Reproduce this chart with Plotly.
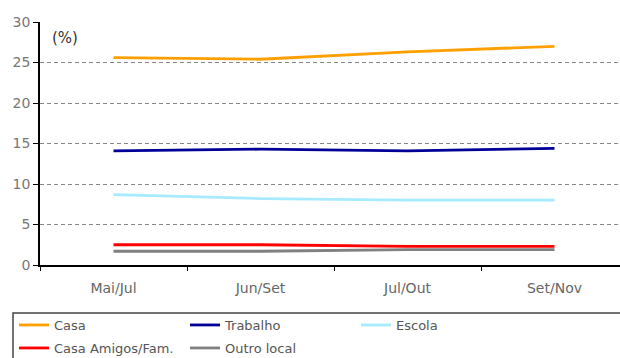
import plotly.graph_objects as go

# Periods (three-month moving windows)
periodos = ["Mai/Jul", "Jun/Set", "Jul/Out", "Set/Nov"]

# Share of use by location (%)
casa = [25.6, 25.4, 26.3, 27.0]
trabalho = [14.1, 14.3, 14.1, 14.4]
escola = [8.7, 8.2, 8.0, 8.0]
casa_amigos = [2.5, 2.5, 2.3, 2.3]
outro_local = [1.7, 1.7, 1.9, 1.9]

# name, values, colour, legend row
series = [
    ("Casa", casa, "#FFA000", "legend"),
    ("Trabalho", trabalho, "#000099", "legend"),
    ("Escola", escola, "#A6EBFF", "legend"),
    ("Casa Amigos/Fam.", casa_amigos, "#FF0000", "legend2"),
    ("Outro local", outro_local, "#808080", "legend2"),
]

W, H = 620, 358
ML, MR, MT, MB = 40, 0, 22, 93
plot_w = W - ML - MR
plot_h = H - MT - MB


def px_x(px):
    return (px - ML) / plot_w


def px_y(py):
    return (H - MB - py) / plot_h


fig = go.Figure()
for nome, valores, cor, leg in series:
    fig.add_trace(go.Scatter(
        x=periodos, y=valores, name=nome, mode="lines",
        line=dict(color=cor, width=2.8), legend=leg,
    ))

font = "DejaVu Sans, Verdana, sans-serif"

legend_style = dict(
    orientation="h",
    xanchor="left", yanchor="middle",
    entrywidth=126, entrywidthmode="pixels",
    font=dict(size=13, color="#555555", family=font),
    bgcolor="rgba(0,0,0,0)", borderwidth=0,
    itemwidth=30,
)

fig.update_layout(
    width=W, height=H,
    margin=dict(l=ML, r=MR, t=MT, b=MB, autoexpand=False),
    paper_bgcolor="white", plot_bgcolor="white",
    font=dict(family=font, color="#666666"),
    showlegend=True,
    legend=dict(legend_style, x=px_x(14), y=px_y(325)),
    legend2=dict(legend_style, x=px_x(14), y=px_y(348)),
    xaxis=dict(
        type="category", automargin=False,
        range=[-0.5, -0.5 + plot_w / 147.0],
        tickson="boundaries",
        ticks="outside", ticklen=4, tickcolor="#000000", tickwidth=1,
        ticklabelstandoff=9,
        showline=True, linecolor="#000000", linewidth=1.5,
        showgrid=False, zeroline=False,
        tickfont=dict(size=14, color="#666666", family=font),
    ),
    yaxis=dict(
        range=[0, 30], dtick=5, automargin=False,
        ticks="outside", ticklen=5, tickcolor="#000000", tickwidth=1,
        showline=True, linecolor="#000000", linewidth=1.5,
        showgrid=True, gridcolor="#888888", gridwidth=1, griddash="4px,3px",
        zeroline=False,
        tickfont=dict(size=14, color="#777777", family=font),
    ),
    annotations=[dict(
        text="(%)", xref="paper", yref="paper",
        x=px_x(50), y=px_y(38), xanchor="left", yanchor="middle",
        showarrow=False, font=dict(size=15, color="#333333", family=font),
    )],
    shapes=[dict(
        type="rect", xref="paper", yref="paper",
        x0=px_x(13), x1=px_x(640), y0=px_y(313), y1=px_y(380),
        line=dict(color="#444444", width=1.5), fillcolor="rgba(0,0,0,0)",
        layer="above",
    )],
)

fig.write_html("out.html")
